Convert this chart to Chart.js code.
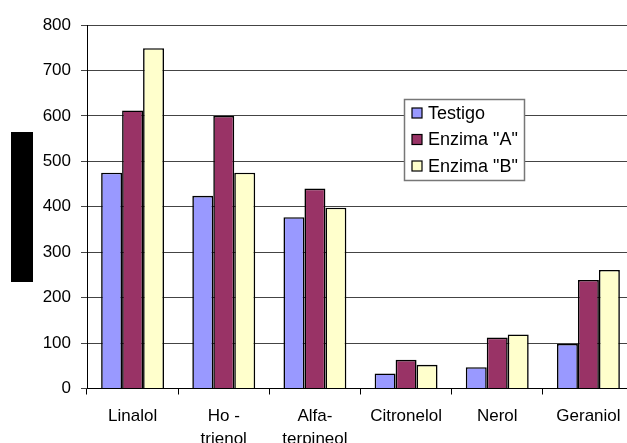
<!DOCTYPE html>
<html>
<head>
<meta charset="utf-8">
<script src="https://cdn.jsdelivr.net/npm/chart.js@4"></script>
<style>
  html, body { margin: 0; padding: 0; background: #fff; overflow: hidden; }
  #wrap { width: 627px; height: 443px; overflow: hidden; }
  canvas { display: block; }
</style>
</head>
<body>
<div id="wrap"><canvas id="c" width="640" height="443"></canvas></div>
<script>
// Monoterpene content by treatment
const categories = [["Linalol"], ["Ho -", "trienol"], ["Alfa-", "terpineol"], ["Citronelol"], ["Nerol"], ["Geraniol"]];
const seriesNames = ["Testigo", "Enzima \"A\"", "Enzima \"B\""];
const testigo = [475, 424, 377, 33, 47, 98];
const enzimaA = [612, 600, 440, 63, 112, 239];
const enzimaB = [749, 475, 398, 52, 119, 261];
const seriesColors = ["#9999FF", "#993366", "#FFFFCC"];
const yMin = 0, yMax = 800, yStep = 100;

const FONT = "'Liberation Sans', Arial, sans-serif";

// Legend box drawn inside the plot, over the gridlines
const boxLegend = {
  id: 'boxLegend',
  afterDatasetsDraw(chart) {
    const ctx = chart.ctx;
    const x = 404.5, y = 99.5, w = 120, h = 81;
    ctx.save();
    ctx.fillStyle = '#fff';
    ctx.fillRect(x, y, w, h);
    ctx.strokeStyle = '#777';
    ctx.lineWidth = 1.5;
    ctx.strokeRect(x, y, w, h);
    ctx.font = '18px ' + FONT;
    ctx.textBaseline = 'middle';
    chart.data.datasets.forEach((ds, i) => {
      const cy = 113 + i * 26.5;
      ctx.fillStyle = ds.backgroundColor;
      ctx.fillRect(412, cy - 5, 10, 10);
      ctx.strokeStyle = '#000';
      ctx.lineWidth = 1.2;
      ctx.strokeRect(412, cy - 5, 10, 10);
      ctx.fillStyle = '#000';
      ctx.fillText(ds.label, 428, cy + 1);
    });
    ctx.restore();
  }
};

// Solid block beside the value axis
const sideBlock = {
  id: 'sideBlock',
  afterDraw(chart) {
    const ctx = chart.ctx;
    ctx.save();
    ctx.fillStyle = '#000';
    ctx.fillRect(11, 132, 22, 150);
    ctx.restore();
  }
};

const values = [testigo, enzimaA, enzimaB];

new Chart(document.getElementById('c'), {
  type: 'bar',
  data: {
    labels: categories,
    datasets: seriesNames.map((name, i) => ({
      label: name,
      data: values[i],
      backgroundColor: seriesColors[i],
      borderColor: '#000',
      borderWidth: 1.6,
      categoryPercentage: 0.69,
      barPercentage: 1.0
    }))
  },
  options: {
    responsive: false,
    devicePixelRatio: 1,
    animation: false,
    layout: { padding: { top: 25, right: 6, left: 0, bottom: 0 } },
    plugins: {
      legend: { display: false },
      tooltip: { enabled: false }
    },
    scales: {
      x: {
        grid: { display: true, drawOnChartArea: false, drawTicks: true, tickLength: 6, color: '#000', offset: true },
        border: { display: true, color: '#000', width: 1 },
        ticks: { color: '#000', font: { family: FONT, size: 17, lineHeight: 1.35 }, padding: 10, maxRotation: 0, autoSkip: false },
        afterFit(scale) { scale.height = 54.5; }
      },
      y: {
        min: yMin, max: yMax,
        grid: { color: '#444', lineWidth: 1, drawTicks: true, tickLength: 6 },
        border: { display: true, color: '#000', width: 1 },
        ticks: { stepSize: yStep, color: '#000', font: { family: FONT, size: 17 }, padding: 10 },
        afterFit(scale) { scale.width = 87; }
      }
    }
  },
  plugins: [boxLegend, sideBlock]
});
</script>
</body>
</html>
